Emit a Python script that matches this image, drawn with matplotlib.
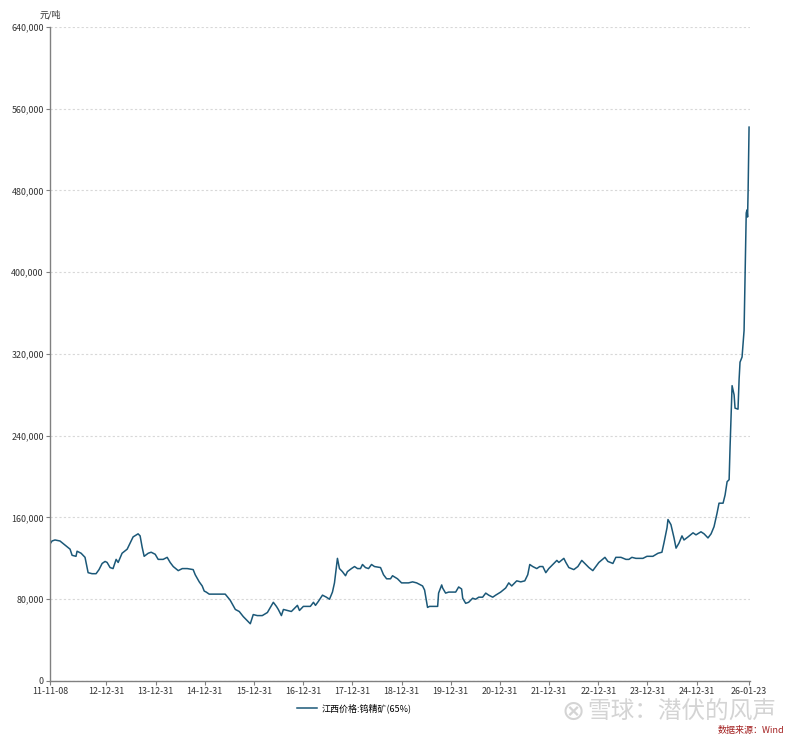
import matplotlib
matplotlib.use('Agg')
import matplotlib.pyplot as plt
import matplotlib.ticker as mticker
import pandas as pd

plt.rcParams['font.family'] = ['Noto Sans CJK SC', 'DejaVu Sans']

# 江西钨精矿(65%)价格, 元/吨
dates = [
    '2011-11-08', '2011-11-23', '2011-12-15', '2012-01-21', '2012-02-28', '2012-04-05',
    '2012-04-20', '2012-05-19', '2012-05-27', '2012-06-26', '2012-07-25', '2012-08-17',
    '2012-09-15', '2012-10-15', '2012-11-06', '2012-11-29', '2012-12-21', '2013-01-05',
    '2013-01-27', '2013-02-18', '2013-03-13', '2013-03-28', '2013-04-26', '2013-06-03',
    '2013-06-25', '2013-07-17', '2013-08-23', '2013-09-07', '2013-09-22', '2013-10-07',
    '2013-11-06', '2013-11-28', '2013-12-28', '2014-01-19', '2014-02-25', '2014-03-27',
    '2014-04-18', '2014-05-11', '2014-06-17', '2014-07-17', '2014-08-23', '2014-10-06',
    '2014-10-21', '2014-11-20', '2014-12-12', '2014-12-27', '2015-01-11', '2015-02-02',
    '2015-06-01', '2015-07-08', '2015-08-15', '2015-09-13', '2015-10-13', '2015-11-12',
    '2015-12-04', '2015-12-26', '2016-01-25', '2016-03-02', '2016-04-09', '2016-05-01',
    '2016-05-23', '2016-06-15', '2016-06-29', '2016-07-22', '2016-08-06', '2016-09-04',
    '2016-10-04', '2016-11-03', '2016-11-18', '2016-12-03', '2017-01-01', '2017-01-31',
    '2017-02-22', '2017-03-17', '2017-04-01', '2017-04-23', '2017-05-23', '2017-06-21',
    '2017-07-14', '2017-08-05', '2017-08-20', '2017-09-11', '2017-09-26', '2017-10-18',
    '2017-11-10', '2017-11-24', '2017-12-24', '2018-01-16', '2018-02-07', '2018-03-01',
    '2018-03-16', '2018-04-07', '2018-04-30', '2018-05-22', '2018-06-13', '2018-07-28',
    '2018-08-19', '2018-09-11', '2018-10-10', '2018-10-25', '2018-12-01', '2018-12-31',
    '2019-02-21', '2019-03-23', '2019-04-22', '2019-06-05', '2019-06-20', '2019-07-12',
    '2019-07-27', '2019-08-26', '2019-09-25', '2019-10-02', '2019-10-25', '2019-11-01',
    '2019-11-23', '2019-12-16', '2020-02-06', '2020-02-28', '2020-03-21', '2020-03-29',
    '2020-04-20', '2020-05-12', '2020-06-11', '2020-07-03', '2020-07-26', '2020-08-24',
    '2020-09-16', '2020-10-08', '2020-11-07', '2020-11-29', '2021-01-05', '2021-02-11',
    '2021-03-06', '2021-03-28', '2021-04-19', '2021-05-04', '2021-06-03', '2021-07-03',
    '2021-07-25', '2021-08-09', '2021-08-31', '2021-09-30', '2021-10-22', '2021-11-14',
    '2021-12-06', '2021-12-28', '2022-01-27', '2022-02-26', '2022-03-13', '2022-04-19',
    '2022-05-04', '2022-05-26', '2022-07-02', '2022-08-01', '2022-08-30', '2022-09-29',
    '2022-10-22', '2022-11-20', '2022-12-13', '2023-01-04', '2023-02-18', '2023-03-12',
    '2023-04-18', '2023-05-10', '2023-06-17', '2023-07-24', '2023-08-15', '2023-09-06',
    '2023-10-06', '2023-11-27', '2023-12-27', '2024-02-09', '2024-03-18', '2024-04-16',
    '2024-05-01', '2024-05-24', '2024-05-31', '2024-06-22', '2024-07-15', '2024-07-30',
    '2024-08-21', '2024-09-12', '2024-09-27', '2024-10-27', '2024-12-03', '2024-12-25',
    '2025-01-31', '2025-02-23', '2025-03-24', '2025-04-16', '2025-05-08', '2025-05-30',
    '2025-06-14', '2025-07-14', '2025-07-29', '2025-08-13', '2025-08-28', '2025-09-04',
    '2025-09-19', '2025-10-04', '2025-10-11', '2025-11-02', '2025-11-10', '2025-11-17',
    '2025-12-02', '2025-12-17', '2025-12-25', '2026-01-02', '2026-01-08', '2026-01-12',
    '2026-01-16', '2026-01-23',
]
prices = [
    134000, 137000, 138000, 137000, 133000, 129000,
    123000, 122000, 127000, 125000, 121000, 106000,
    105000, 105000, 109000, 115000, 117000, 116000,
    111000, 110000, 119000, 116000, 125000, 129000,
    135000, 141000, 144000, 142000, 131000, 122000,
    125000, 126000, 124000, 119000, 119000, 121000,
    116000, 112000, 108000, 110000, 110000, 109000,
    104000, 97000, 93000, 88000, 87000, 85000,
    85000, 79000, 70000, 68000, 63000, 59000,
    56000, 65000, 64000, 64000, 67000, 72000,
    77000, 73000, 70000, 64000, 70000, 69000,
    68000, 72000, 74000, 69000, 73000, 73000,
    73000, 77000, 74000, 78000, 84000, 82000,
    80000, 87000, 96000, 120000, 110000, 107000,
    103000, 107000, 110000, 112000, 110000, 110000,
    114000, 111000, 110000, 114000, 112000, 111000,
    104000, 100000, 100000, 103000, 100000, 96000,
    96000, 97000, 96000, 93000, 89000, 72000,
    73000, 73000, 73000, 86000, 94000, 91000,
    86000, 87000, 87000, 92000, 90000, 81000,
    76000, 77000, 81000, 80000, 82000, 82000,
    86000, 84000, 82000, 84000, 87000, 91000,
    96000, 93000, 96000, 98000, 97000, 98000,
    104000, 114000, 112000, 110000, 112000, 112000,
    106000, 110000, 114000, 118000, 116000, 120000,
    116000, 111000, 109000, 112000, 118000, 114000,
    111000, 108000, 112000, 116000, 121000, 117000,
    115000, 121000, 121000, 119000, 119000, 121000,
    120000, 120000, 122000, 122000, 125000, 126000,
    135000, 150000, 158000, 153000, 140000, 130000,
    135000, 142000, 138000, 141000, 145000, 143000,
    146000, 144000, 140000, 144000, 151000, 164000,
    174000, 174000, 182000, 195000, 197000, 229000,
    289000, 280000, 267000, 266000, 295000, 312000,
    317000, 343000, 399000, 458000, 461000, 454000,
    480000, 542000,
]

tick_dates = ['2011-11-08', '2012-12-31', '2013-12-31', '2014-12-31', '2015-12-31',
              '2016-12-31', '2017-12-31', '2018-12-31', '2019-12-31', '2020-12-31',
              '2021-12-31', '2022-12-31', '2023-12-31', '2024-12-31', '2026-01-23']
tick_labels = ['11-11-08', '12-12-31', '13-12-31', '14-12-31', '15-12-31',
               '16-12-31', '17-12-31', '18-12-31', '19-12-31', '20-12-31',
               '21-12-31', '22-12-31', '23-12-31', '24-12-31', '26-01-23']
y_ticks = [0, 80000, 160000, 240000, 320000, 400000, 480000, 560000, 640000]
series_name = '江西价格:钨精矿(65%)'

x = pd.to_datetime(dates)

fig = plt.figure(figsize=(8, 7.39), dpi=100)
ax = fig.add_axes([0.0625, 0.0785, 0.875, 0.885])

ax.plot(x, prices, color='#1b5878', linewidth=1.1, label=series_name)

ax.set_xlim(pd.Timestamp('2011-11-08'), pd.Timestamp('2026-01-30'))
ax.set_ylim(0, 640000)
ax.set_yticks(y_ticks)
ax.yaxis.set_major_formatter(mticker.FuncFormatter(lambda v, p: f'{int(v):,}'))
ax.set_xticks(pd.to_datetime(tick_dates))
ax.set_xticklabels(tick_labels)

ax.grid(axis='y', linestyle=(0, (2, 2)), color='#d8d8d8', linewidth=0.8)
ax.set_axisbelow(True)
for s in ['top', 'right']:
    ax.spines[s].set_visible(False)
for s in ['left', 'bottom']:
    ax.spines[s].set_color('#808080')
    ax.spines[s].set_linewidth(1.0)
ax.tick_params(axis='both', labelsize=6.4, colors='#333333', length=3, width=0.8, pad=1.5)
ax.tick_params(axis='both', color='#808080')

ax.text(0.0, 1.012, '元/吨', transform=ax.transAxes, fontsize=6.5, color='#333333',
        ha='center', va='bottom')

ax.legend(loc='upper center', bbox_to_anchor=(0.435, -0.022), frameon=False,
          fontsize=6.5, handlelength=2.2, handletextpad=0.5)

# watermark + source
fig.text(0.852, 0.036, '雪球：潜伏的风声', fontsize=17, color='#d4d4d4',
         ha='center', va='center')
fig.text(0.716, 0.036, '⊗', fontsize=20, color='#d4d4d4', ha='center', va='center',
         family=['DejaVu Sans'])
fig.text(0.981, 0.012, '数据来源：Wind', fontsize=6.5, color='#a32020',
         ha='right', va='center')

fig.savefig('out.png', dpi=100)
